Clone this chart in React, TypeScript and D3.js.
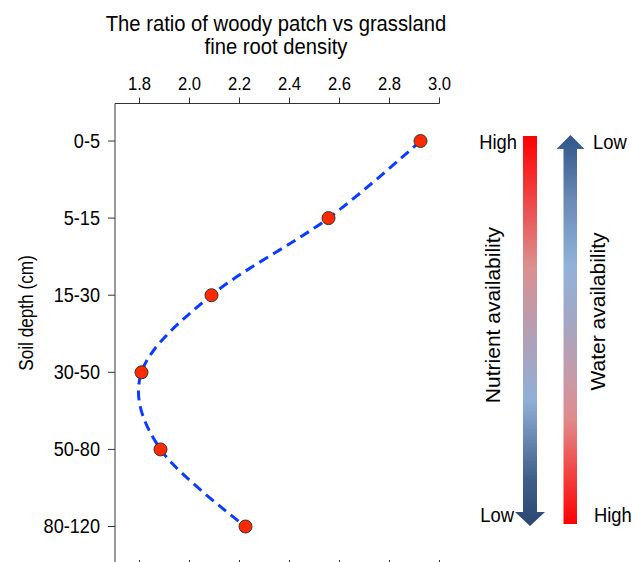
import React from "react";
import * as d3 from "d3";

const depths = ["0-5", "5-15", "15-30", "30-50", "50-80", "80-120"];
const ratio = [2.924, 2.556, 2.088, 1.808, 1.884, 2.224];
const xTicks = [1.8, 2.0, 2.2, 2.4, 2.6, 2.8, 3.0];
const titleLines = ["The ratio of woody patch vs grassland", "fine root density"];

const nutrientStops = [
  { o: 0, c: "#ff0000" },
  { o: 0.164, c: "#ee4646" },
  { o: 0.336, c: "#db9090" },
  { o: 0.523, c: "#b0a0b8" },
  { o: 0.677, c: "#90b0d8" },
  { o: 0.882, c: "#3e5e8a" },
  { o: 1, c: "#2c4770" },
];
const waterStops = [
  { o: 0, c: "#2f5488" },
  { o: 0.167, c: "#6a8ab5" },
  { o: 0.334, c: "#90b2da" },
  { o: 0.5, c: "#a8a4c0" },
  { o: 0.627, c: "#c89aa8" },
  { o: 0.733, c: "#e08a8a" },
  { o: 0.887, c: "#f43a3a" },
  { o: 1, c: "#ff0000" },
];

const FONT = "Arial, 'Liberation Sans', sans-serif";

type TProps = {
  x: number; y: number; size: number; sx?: number; rot?: number;
  anchor?: "start" | "middle" | "end"; dy?: string; children: React.ReactNode;
};
function T({ x, y, size, sx = 1, rot = 0, anchor = "start", dy, children }: TProps) {
  return (
    <text
      transform={`translate(${x},${y}) rotate(${rot}) scale(${sx},1)`}
      textAnchor={anchor}
      fontSize={size}
      dy={dy}
      fill="#000"
    >
      {children}
    </text>
  );
}

export default function App() {
  const W = 635, H = 562;
  const x = d3.scaleLinear().domain([1.7, 3.0]).range([114.5, 439.5]);
  const y = d3.scalePoint<string>().domain(depths).range([141, 526.5]);
  const axisTop = 103.5;
  const axisLeft = 115;
  const axisBottom = 566;

  const pts: [number, number][] = depths.map((d, i) => [x(ratio[i]), y(d)!]);
  const line = d3.line().curve(d3.curveCatmullRom.alpha(0))(pts) || "";

  const nTop = 136, nShaftEnd = 512, nTip = 526;
  const nL = 523, nR = 537, nHL = 515, nHR = 545;
  const nutrientPath = `M${nL},${nTop}H${nR}V${nShaftEnd}H${nHR}L${(nHL + nHR) / 2},${nTip}L${nHL},${nShaftEnd}H${nL}Z`;
  const wTip = 135, wHeadBase = 149, wBottom = 524;
  const wL = 563.5, wR = 577, wHL = 556.5, wHR = 584.5;
  const waterPath = `M${(wHL + wHR) / 2},${wTip}L${wHR},${wHeadBase}H${wR}V${wBottom}H${wL}V${wHeadBase}H${wHL}Z`;

  return (
    <svg width={W} height={H} style={{ position: "absolute", left: 0, top: 0, background: "#fff" }} fontFamily={FONT}>
      <defs>
        <linearGradient id="gN" gradientUnits="userSpaceOnUse" x1={0} y1={nTop} x2={0} y2={nTip}>
          {nutrientStops.map((s, i) => <stop key={i} offset={s.o} stopColor={s.c} />)}
        </linearGradient>
        <linearGradient id="gW" gradientUnits="userSpaceOnUse" x1={0} y1={wTip} x2={0} y2={wBottom}>
          {waterStops.map((s, i) => <stop key={i} offset={s.o} stopColor={s.c} />)}
        </linearGradient>
      </defs>
      <rect width={W} height={H} fill="#fff" />

      {titleLines.map((t, i) => (
        <T key={i} x={276} y={31 + i * 23} size={22} sx={0.92} anchor="middle">{t}</T>
      ))}

      <line x1={axisLeft} x2={x(3.0)} y1={axisTop} y2={axisTop} stroke="#333" strokeWidth={1} />
      {xTicks.map((t) => (
        <g key={t}>
          <line x1={x(t)} x2={x(t)} y1={axisTop} y2={axisTop - 6} stroke="#333" strokeWidth={1} />
          <T x={x(t)} y={90} size={18.5} sx={0.9} anchor="middle">{t.toFixed(1)}</T>
          <line x1={x(t)} x2={x(t)} y1={axisBottom} y2={axisBottom - 6} stroke="#333" strokeWidth={1} />
        </g>
      ))}

      <line x1={axisLeft} x2={axisLeft} y1={axisTop} y2={H + 10} stroke="#333" strokeWidth={1} />
      {depths.map((d) => (
        <g key={d}>
          <line x1={axisLeft - 7} x2={axisLeft} y1={y(d)!} y2={y(d)!} stroke="#333" strokeWidth={1} />
          <T x={100} y={y(d)!} size={19.5} sx={0.93} anchor="end" dy="0.35em">{d}</T>
        </g>
      ))}
      <T x={33} y={313} size={20} sx={0.86} rot={-90} anchor="middle">Soil depth (cm)</T>

      <path d={line} fill="none" stroke="#0a3cff" strokeWidth={3} strokeDasharray="10,6" />
      {pts.map((p, i) => (
        <circle key={i} cx={p[0]} cy={p[1]} r={6.5} fill="#ff2a00" stroke="#333" strokeWidth={1} />
      ))}

      <path d={nutrientPath} fill="url(#gN)" />
      <path d={waterPath} fill="url(#gW)" />
      <T x={517} y={149} size={20} sx={0.92} anchor="end">High</T>
      <T x={593} y={149} size={20} sx={0.92}>Low</T>
      <T x={514} y={522} size={20} sx={0.92} anchor="end">Low</T>
      <T x={594} y={522} size={20} sx={0.92}>High</T>
      <T x={500} y={315} size={21} rot={-90} anchor="middle">Nutrient availability</T>
      <T x={605} y={311.5} size={21} rot={-90} anchor="middle">Water availability</T>
    </svg>
  );
}
